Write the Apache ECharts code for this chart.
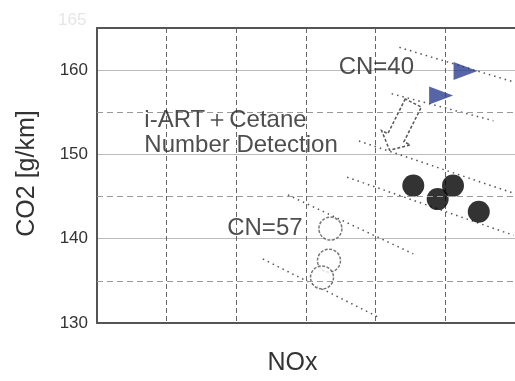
<!DOCTYPE html>
<html>
<head>
<meta charset="utf-8">
<script src="https://cdn.jsdelivr.net/npm/echarts@6/dist/echarts.min.js"></script>
<style>html,body{margin:0;padding:0;background:#fff;}#c{width:515px;height:381px;}</style>
</head>
<body>
<div id="c"></div>
<script>
// ---- data ----
var yTickLabels = [130, 140, 150, 160];
var yMinorLines = [135, 145, 155];
var cn40Points = [[5.29, 159.9], [4.94, 157.0]];
var detectionPoints = [[4.54, 146.3], [4.89, 144.7], [5.11, 146.3], [5.48, 143.2]];
var cn57Points = [[3.35, 141.2], [3.33, 137.4], [3.23, 135.4]];
var isoLine1 = [[4.34, 162.7], [5.98, 158.6]];
var isoLine2 = [[4.23, 157.2], [5.69, 154.0]];
var isoLine3 = [[3.76, 151.6], [5.98, 145.4]];
var isoLine4 = [[3.59, 147.3], [5.98, 140.4]];
var isoLine5 = [[2.74, 145.2], [4.54, 138.2]];
var isoLine6 = [[2.38, 137.6], [4.06, 130.6]];
var arrowData = [[4.54, 156.1, 4.20, 150.5]];
var annotations = [
  [4.01, 160.3, 'CN=40', 'center'],
  [2.41, 141.2, 'CN=57', 'center'],
  [0.68, 152.6, 'i-ART\uFF0BCetane\nNumber Detection', 'left']
];

var FONT = '"Liberation Sans", Arial, sans-serif';
var chart = echarts.init(document.getElementById('c'), null, {renderer: 'canvas'});

function isoSeries(d) {
  return {
    type: 'line', data: d, symbol: 'none', silent: true, z: 2,
    lineStyle: {color: '#555', width: 1.5, type: [1.5, 4]}
  };
}

var option = {
  animation: false,
  backgroundColor: '#fff',
  grid: {left: 97, top: 28, width: 423, height: 300},
  xAxis: [{
    type: 'value', min: 0, max: 6, interval: 1,
    name: 'NOx', nameLocation: 'middle', nameGap: 28,
    nameTextStyle: {fontFamily: FONT, fontSize: 25, color: '#333', padding: [0, 27, 0, 0]},
    axisLine: {show: true, onZero: false, lineStyle: {color: '#555', width: 2}},
    axisTick: {show: false}, axisLabel: {show: false},
    splitLine: {show: true, lineStyle: {color: '#666', width: 1, type: [5, 3]}}
  }, {
    type: 'value', min: 0, max: 6, position: 'top',
    axisLine: {show: true, onZero: false, lineStyle: {color: '#555', width: 2}},
    axisTick: {show: false}, axisLabel: {show: false}, splitLine: {show: false}
  }],
  yAxis: {
    type: 'value', min: 130, max: 165, interval: 10,
    name: 'CO2 [g/km]', nameLocation: 'middle', nameGap: 57, nameRotate: 90,
    nameTextStyle: {fontFamily: FONT, fontSize: 25, color: '#333', padding: [0, 0, 0, 4]},
    axisLine: {show: true, onZero: false, lineStyle: {color: '#555', width: 2}},
    axisTick: {show: false},
    axisLabel: {
      margin: 9, fontFamily: FONT, fontSize: 17, color: '#333',
      formatter: function (v) { return yTickLabels.indexOf(v) >= 0 ? String(v) : ''; }
    },
    splitLine: {show: true, lineStyle: {color: '#bbb', width: 1}}
  },
  series: [
    {
      type: 'line', data: [], silent: true,
      markLine: {
        silent: true, symbol: 'none', label: {show: false},
        lineStyle: {color: '#999', width: 1, type: [6, 4]},
        data: yMinorLines.map(function (v) { return {yAxis: v}; })
      }
    },
    isoSeries(isoLine1), isoSeries(isoLine2), isoSeries(isoLine3),
    isoSeries(isoLine4), isoSeries(isoLine5), isoSeries(isoLine6),
    {
      type: 'custom', data: arrowData, z: 3, silent: true,
      encode: {x: [0, 2], y: [1, 3]},
      renderItem: function (params, api) {
        var t = api.coord([api.value(0), api.value(1)]);
        var p = api.coord([api.value(2), api.value(3)]);
        var dx = p[0] - t[0], dy = p[1] - t[1];
        var L = Math.sqrt(dx * dx + dy * dy);
        var ux = dx / L, uy = dy / L, nx = -uy, ny = ux;
        var headLen = 14, sh = 9, hh = 16;
        var b = [p[0] - ux * headLen, p[1] - uy * headLen];
        var pts = [
          [t[0] + nx * sh, t[1] + ny * sh],
          [b[0] + nx * sh, b[1] + ny * sh],
          [b[0] + nx * hh, b[1] + ny * hh],
          [p[0], p[1]],
          [b[0] - nx * hh, b[1] - ny * hh],
          [b[0] - nx * sh, b[1] - ny * sh],
          [t[0] - nx * sh, t[1] - ny * sh]
        ];
        return {type: 'polygon', shape: {points: pts},
          style: {fill: 'rgba(255,255,255,0.9)', stroke: '#555', lineWidth: 1.5, lineDash: [3, 2]}};
      }
    },
    {
      type: 'scatter', data: cn57Points, symbol: 'circle', symbolSize: 23, z: 4,
      itemStyle: {color: '#fff', borderColor: '#555', borderWidth: 1.5, borderType: [3, 1.5]}
    },
    {
      type: 'scatter', data: detectionPoints, symbol: 'circle', symbolSize: 22, z: 4,
      itemStyle: {color: '#000'}
    },
    {
      type: 'scatter', data: cn40Points, symbol: 'triangle', symbolSize: [18, 24], symbolRotate: -90, z: 4,
      itemStyle: {color: '#2b3f8f'}
    },
    {
      type: 'scatter', symbolSize: 0, z: 5, silent: true,
      data: annotations.map(function (a) {
        return {value: [a[0], a[1]], name: a[2],
          label: {align: a[3]}};
      }),
      label: {
        show: true, position: 'inside', formatter: '{b}',
        fontFamily: FONT, fontSize: 24, color: '#222', lineHeight: 25,
        backgroundColor: 'transparent'
      }
    }
  ],
  graphic: [{
    type: 'text', left: 58, top: 12, silent: true,
    style: {text: '165', font: '17px ' + FONT, fill: '#e6e6e6'}
  }]
};
chart.setOption(option);
</script>
</body>
</html>
